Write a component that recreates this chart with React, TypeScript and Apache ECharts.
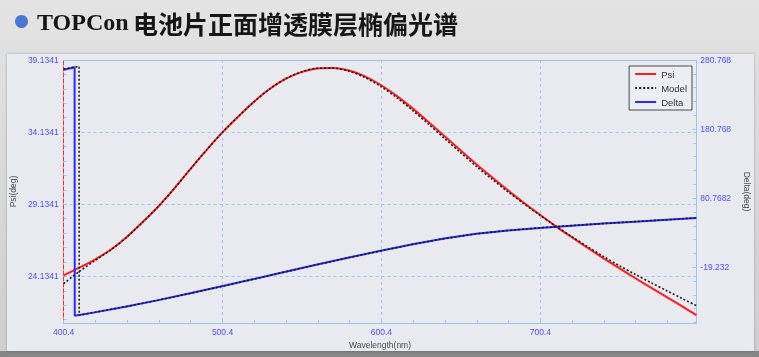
import { useEffect, useRef } from "react";
import * as echarts from "echarts";

// Psi spectrum (deg) — measured vs. fitted model
const psiWavelength = [
  400.4, 410, 420, 430, 440, 450, 460, 470, 480, 490, 500, 510, 520, 530, 540, 550, 560, 570, 580, 590,
  600, 610, 620, 630, 640, 650, 660, 670, 680, 690, 700, 710, 720, 730, 740, 750, 760, 770, 780, 790, 798.6,
];
const psiMeasured = [
  24.2, 24.72, 25.3, 25.98, 26.85, 27.88, 28.98, 30.22, 31.55, 32.85, 34.08, 35.18, 36.22, 37.12, 37.82, 38.29,
  38.55, 38.58, 38.4, 38.0, 37.4, 36.65, 35.78, 34.84, 33.87, 32.89, 31.93, 31.0, 30.1, 29.24, 28.42, 27.62,
  26.86, 26.12, 25.4, 24.7, 24.02, 23.36, 22.7, 22.04, 21.45,
];
const psiModel = [
  23.63, 24.45, 25.22, 25.96, 26.84, 27.88, 28.98, 30.22, 31.55, 32.85, 34.08, 35.18, 36.22, 37.12, 37.83, 38.3,
  38.56, 38.57, 38.36, 37.93, 37.3, 36.53, 35.64, 34.69, 33.71, 32.73, 31.78, 30.87, 30.0, 29.17, 28.38, 27.62,
  26.9, 26.2, 25.52, 24.88, 24.28, 23.7, 23.14, 22.58, 22.1,
];

// Delta spectrum (deg) — phase wraps just above 400 nm
const deltaWavelength = [
  400.4, 404, 407.3, 407.4, 420, 440, 460, 480, 500, 520, 540, 560, 580, 600, 620, 640, 660, 680, 700, 720,
  740, 760, 780, 798.6,
];
const deltaMeasured = [
  266.7, 268.5, 270.2, -89.6, -84.6, -76.2, -66.9, -57.0, -46.8, -36.4, -25.9, -15.4, -5.2, 4.6, 13.9, 22.4,
  29.1, 34.0, 37.7, 40.9, 43.9, 46.7, 49.4, 52.0,
];
const deltaModelWavelength = [
  400.4, 405, 410.1, 410.2, 420, 440, 460, 480, 500, 520, 540, 560, 580, 600, 620, 640, 660, 680, 700, 720,
  740, 760, 780, 798.6,
];
const deltaModel = [
  267.7, 269.6, 271.6, -88.8, -84.4, -76.1, -66.9, -57.1, -46.9, -36.5, -26.0, -15.5, -5.3, 4.5, 13.8, 22.3,
  29.0, 34.0, 37.8, 41.0, 44.0, 46.8, 49.5, 52.2,
];

// Axis ticks and labels
const wavelengthTicks = [400.4, 500.4, 600.4, 700.4];
const psiTicks = [24.1341, 29.1341, 34.1341, 39.1341];
const deltaTicks = [-19.232, 80.7682, 180.768, 280.768];
const deltaTickLabels = ["-19.232", "80.7682", "180.768", "280.768"];

const steps = (start: number, step: number, count: number) =>
  Array.from({ length: count }, (_, i) => +(start + i * step).toFixed(4));
const wavelengthMinorTicks = steps(400.4, 20, 20);
const psiMinorTicks = steps(21.1341, 1, 19);
const deltaMinorTicks = steps(-99.232, 20, 20);

const X_MIN = 400.4;
const X_MAX = 798.6;
const PSI_MIN = 20.9;
const PSI_MAX = 39.1341;
const DELTA_MIN = -100;
const DELTA_MAX = 280.768;

const FONT = '"Liberation Sans", Arial, sans-serif';
const LABEL_COLOR = "#4d4df2";
const NAME_COLOR = "#4a4a4a";
const FRAME_COLOR = "#9dc4ec";
const GRID_COLOR = "#a3c8ef";

const pairs = (xs: number[], ys: number[]) => xs.map((x, i) => [x, ys[i]]);

export default function App() {
  const ref = useRef<HTMLDivElement>(null);

  useEffect(() => {
    if (!ref.current) return;
    const chart = echarts.init(ref.current, undefined, { renderer: "svg" });

    const labelStyle = { color: LABEL_COLOR, fontSize: 8.5, fontFamily: FONT };
    const nameStyle = { color: NAME_COLOR, fontSize: 8.5, fontFamily: FONT };
    const hidden = { show: false };

    chart.setOption({
      animation: false,
      graphic: [
        {
          type: "rect",
          z: -100,
          shape: { x: 0, y: 0, width: 759, height: 357 },
          style: {
            fill: new echarts.graphic.LinearGradient(0, 0, 0, 1, [
              { offset: 0, color: "#e3e3e3" },
              { offset: 1, color: "#cfcfcf" },
            ]),
          },
        },
        {
          type: "rect",
          z: -99,
          shape: { x: 0, y: 351, width: 759, height: 6 },
          style: { fill: "#858585" },
        },
        {
          type: "rect",
          z: -98,
          shape: { x: 7, y: 54, width: 747, height: 297 },
          style: { fill: "#e9eaf0", shadowBlur: 3, shadowColor: "rgba(0,0,0,0.25)" },
        },
        {
          type: "circle",
          z: 10,
          shape: { cx: 21.5, cy: 21.5, r: 6.5 },
          style: { fill: "#4a78d0" },
        },
        {
          type: "text",
          z: 10,
          x: 37,
          y: 22,
          style: {
            text: "TOPCon",
            fill: "#161616",
            fontSize: 24,
            fontWeight: "bold",
            fontFamily: '"Liberation Serif", "Times New Roman", serif',
            verticalAlign: "middle",
          },
        },
        {
          type: "text",
          z: 10,
          x: 133,
          y: 22.5,
          style: {
            text: "电池片正面增透膜层椭偏光谱",
            fill: "#161616",
            fontSize: 25,
            fontWeight: "bold",
            fontFamily: '"Noto Sans CJK SC", sans-serif',
            verticalAlign: "middle",
          },
        },
      ],
      grid: { left: 62, right: 62, top: 60, bottom: 34, containLabel: false },
      legend: {
        data: ["Psi", "Model", "Delta"],
        orient: "vertical",
        right: 67,
        top: 66,
        padding: [3, 5, 3, 5],
        itemWidth: 21,
        itemHeight: 10,
        itemGap: 4,
        borderColor: "#4a4a4a",
        borderWidth: 1,
        borderRadius: 0,
        backgroundColor: "#eceef3",
        itemStyle: { opacity: 0 },
        textStyle: { fontSize: 9.5, color: "#333", fontFamily: FONT },
      },
      xAxis: [
        {
          type: "value",
          position: "bottom",
          min: X_MIN,
          max: X_MAX,
          name: "Wavelength(nm)",
          nameLocation: "middle",
          nameGap: 16,
          nameTextStyle: nameStyle,
          axisLine: { show: true, onZero: false, lineStyle: { color: FRAME_COLOR, width: 1 } },
          axisTick: { show: true, inside: true, length: 3, customValues: wavelengthTicks, lineStyle: { color: FRAME_COLOR } },
          axisLabel: {
            ...labelStyle,
            margin: 4,
            customValues: wavelengthTicks,
            formatter: (v: number) => v.toFixed(1),
          },
          splitLine: { show: true, lineStyle: { color: GRID_COLOR, type: [3, 3], width: 1 } },
        },
        {
          type: "value",
          position: "bottom",
          min: X_MIN,
          max: X_MAX,
          axisLine: { show: false, onZero: false },
          axisTick: { show: true, inside: true, length: 3, customValues: wavelengthMinorTicks, lineStyle: { color: FRAME_COLOR } },
          axisLabel: hidden,
          splitLine: hidden,
        },
        {
          type: "value",
          position: "top",
          min: X_MIN,
          max: X_MAX,
          axisLine: { show: true, onZero: false, lineStyle: { color: FRAME_COLOR, width: 1 } },
          axisTick: hidden,
          axisLabel: hidden,
          splitLine: hidden,
        },
      ],
      yAxis: [
        {
          type: "value",
          position: "left",
          min: PSI_MIN,
          max: PSI_MAX,
          name: "Psi(deg)",
          nameLocation: "middle",
          nameGap: 38,
          nameTextStyle: nameStyle,
          axisLine: { show: true, onZero: false, lineStyle: { color: "#ff2a2a", type: [4, 2], width: 1 } },
          axisTick: { show: true, inside: true, length: 3, customValues: psiTicks, lineStyle: { color: FRAME_COLOR } },
          axisLabel: {
            ...labelStyle,
            margin: 5,
            customValues: psiTicks,
            formatter: (v: number) => v.toFixed(4),
          },
          splitLine: { show: true, lineStyle: { color: GRID_COLOR, type: [3, 3], width: 1 } },
        },
        {
          type: "value",
          position: "right",
          min: DELTA_MIN,
          max: DELTA_MAX,
          name: "Delta(deg)",
          nameLocation: "middle",
          nameRotate: -90,
          nameGap: 38,
          nameTextStyle: nameStyle,
          axisLine: { show: true, onZero: false, lineStyle: { color: FRAME_COLOR, width: 1 } },
          axisTick: { show: true, inside: true, length: 4, customValues: deltaTicks, lineStyle: { color: FRAME_COLOR } },
          axisLabel: {
            ...labelStyle,
            margin: 4,
            customValues: deltaTicks,
            formatter: (v: number) => {
              let best = 0;
              deltaTicks.forEach((t, i) => {
                if (Math.abs(t - v) < Math.abs(deltaTicks[best] - v)) best = i;
              });
              return deltaTickLabels[best];
            },
          },
          splitLine: hidden,
        },
        {
          type: "value",
          position: "left",
          min: PSI_MIN,
          max: PSI_MAX,
          axisLine: { show: false, onZero: false },
          axisTick: { show: true, inside: true, length: 3, customValues: psiMinorTicks, lineStyle: { color: FRAME_COLOR } },
          axisLabel: hidden,
          splitLine: hidden,
        },
        {
          type: "value",
          position: "right",
          min: DELTA_MIN,
          max: DELTA_MAX,
          axisLine: { show: false, onZero: false },
          axisTick: { show: true, inside: true, length: 3, customValues: deltaMinorTicks, lineStyle: { color: FRAME_COLOR } },
          axisLabel: hidden,
          splitLine: hidden,
        },
      ],
      series: [
        {
          name: "Psi",
          type: "line",
          xAxisIndex: 0,
          yAxisIndex: 0,
          data: pairs(psiWavelength, psiMeasured),
          symbol: "none",
          smooth: 0.3,
          lineStyle: { color: "#ff1c1c", width: 2 },
          itemStyle: { color: "#ff1c1c" },
        },
        {
          name: "Delta",
          type: "line",
          xAxisIndex: 0,
          yAxisIndex: 1,
          data: pairs(deltaWavelength, deltaMeasured),
          symbol: "none",
          lineStyle: { color: "#2a2af5", width: 2 },
          itemStyle: { color: "#2a2af5" },
        },
        {
          name: "Model",
          type: "line",
          xAxisIndex: 0,
          yAxisIndex: 0,
          data: pairs(psiWavelength, psiModel),
          symbol: "none",
          smooth: 0.3,
          lineStyle: { color: "#1c1c1c", width: 1.6, type: [2, 2] },
          itemStyle: { color: "#1c1c1c" },
        },
        {
          name: "Model",
          type: "line",
          xAxisIndex: 0,
          yAxisIndex: 1,
          data: pairs(deltaModelWavelength, deltaModel),
          symbol: "none",
          lineStyle: { color: "#1c1c1c", width: 1.6, type: [2, 2] },
          itemStyle: { color: "#1c1c1c" },
        },
      ],
    });

    return () => chart.dispose();
  }, []);

  return <div ref={ref} style={{ position: "fixed", left: 0, top: 0, width: 759, height: 357 }} />;
}
